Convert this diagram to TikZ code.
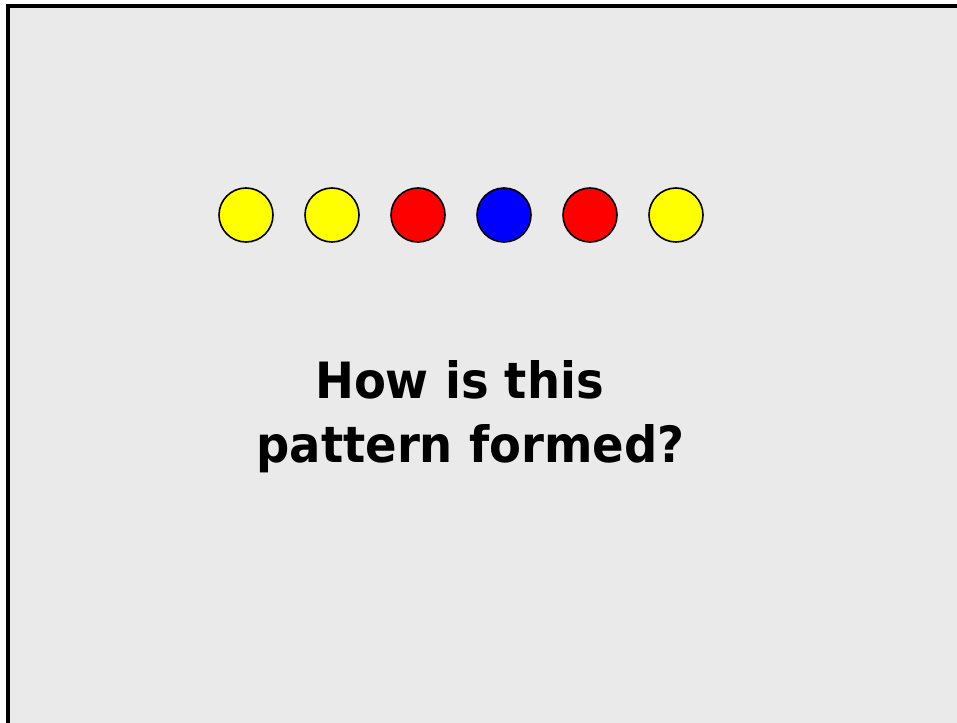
\documentclass[tikz,border=0pt]{standalone}
\usepackage{fontspec}
\newfontfamily\qfont{DejaVu Sans}[Scale=1.0]
\definecolor{dotyellow}{RGB}{255,255,0}
\definecolor{dotred}{RGB}{255,0,0}
\definecolor{dotblue}{RGB}{0,0,255}
\definecolor{slidebg}{RGB}{234,234,234}
\begin{document}
\begin{tikzpicture}[x=1pt,y=-1pt,
  dot/.style={circle,draw=black,line width=1.6pt,minimum size=54pt,inner sep=0pt},
  qtext/.style={anchor=base,font=\qfont\bfseries\fontsize{50}{60}\selectfont,inner sep=0pt,text=black}]
\useasboundingbox (0,0) rectangle (957,722);
\fill[white] (0,0) rectangle (957,722);
\draw[line width=3.2pt,fill=slidebg] (8,6) rectangle (965,730);
\node[dot,fill=dotyellow] (c1) at (246,215) {};
\node[dot,fill=dotyellow] (c2) at (332,215) {};
\node[dot,fill=dotred] (c3) at (418,215) {};
\node[dot,fill=dotblue] (c4) at (504,215) {};
\node[dot,fill=dotred] (c5) at (590,215) {};
\node[dot,fill=dotyellow] (c6) at (676,215) {};
\node[qtext,xscale=0.93] (l1) at (459.5,398) {How is this};
\node[qtext,xscale=0.93] (l2) at (470.5,462) {pattern formed?};
\end{tikzpicture}
\end{document}
